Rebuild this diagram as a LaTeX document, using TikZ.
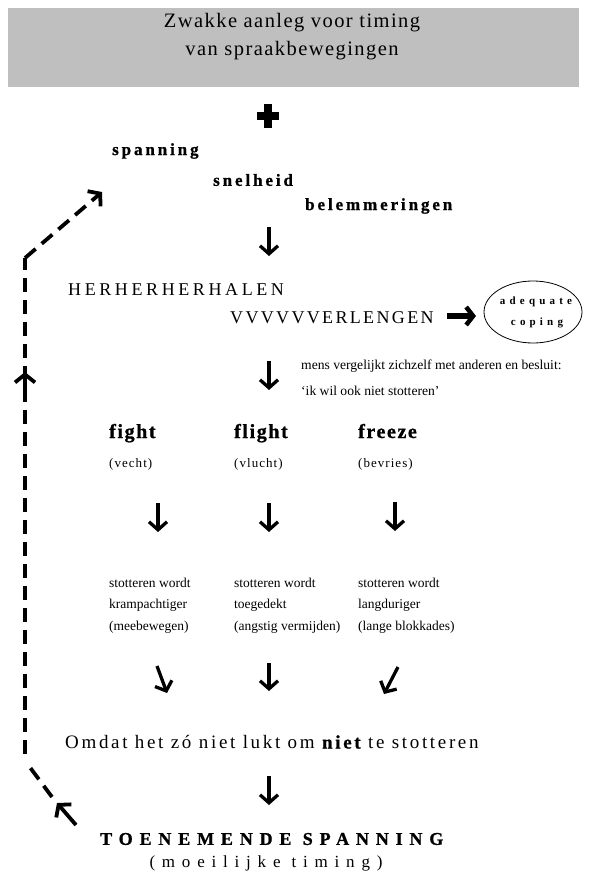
\documentclass[tikz,border=0pt]{standalone}
\usepackage{fontspec}
\setmainfont{Liberation Serif}
\usetikzlibrary{arrows.meta,shapes.geometric}
\begin{document}
\begin{tikzpicture}[x=1pt,y=-1pt,
  txt/.style={inner sep=0pt, anchor=west},
  btxt/.style={inner sep=0pt, anchor=base west},
  ctxt/.style={inner sep=0pt},
  titlefont/.style={font=\fontsize{20.5}{24}\selectfont\addfontfeature{LetterSpace=7}},
  stepfont/.style={font=\bfseries\fontsize{17}{20}\selectfont\addfontfeature{LetterSpace=17,FakeBold=1}},
  herfont/.style={font=\fontsize{18}{21}\selectfont\addfontfeature{LetterSpace=20}},
  verfont/.style={font=\fontsize{18}{21}\selectfont\addfontfeature{LetterSpace=13}},
  smallfont/.style={font=\fontsize{13.6}{16}\selectfont},
  ffont/.style={font=\bfseries\fontsize{20}{23}\selectfont\addfontfeature{LetterSpace=8,FakeBold=1}},
  pfont/.style={font=\fontsize{13}{16}\selectfont\addfontfeature{LetterSpace=8}},
  colfont/.style={font=\fontsize{13.5}{16}\selectfont},
  copefont/.style={font=\bfseries\fontsize{11}{13}\selectfont\addfontfeature{LetterSpace=38}},
  flowarrow/.style={line width=3.3pt, -{Straight Barb[length=8pt,width=18pt,line width=3.3pt]}},
  bigarrow/.style={line width=5.5pt, -{Straight Barb[length=7pt,width=18pt,line width=4.5pt]}},
  loopline/.style={line width=3.8pt, dash pattern=on 14pt off 8pt},
  loophead/.style={line width=3.8pt, -{Straight Barb[length=8pt,width=20pt,line width=3.8pt]}},
]
\useasboundingbox (0,0) rectangle (598,875);

% title box
\node[fill=black!25, minimum width=571pt, minimum height=79pt, inner sep=0pt] (box) at (293.5,47.5) {};
\node[ctxt, titlefont] (t1) at (292,23) {Zwakke aanleg voor timing};
\node[ctxt, titlefont] (t2) at (292,51) {van spraakbewegingen};

% plus
\coordinate (plusc) at (268,116);
\draw[line width=8pt] ([xshift=-11pt]plusc) -- ([xshift=11pt]plusc);
\draw[line width=8pt] ([yshift=-12pt]plusc) -- ([yshift=12pt]plusc);

% three factors
\node[txt, stepfont] (span) at (112,151) {spanning};
\node[txt, stepfont] (snel) at (213,180) {snelheid};
\node[txt, stepfont] (belem) at (305,206) {belemmeringen};

\coordinate (a1s) at (269,227);
\coordinate (a1e) at (269,256);
\draw[flowarrow] (a1s) -- (a1e);

\node[txt, herfont] (herh) at (68,290) {HERHERHERHALEN};
\node[txt, verfont] (verl) at (230,318) {VVVVVVERLENGEN};

\coordinate (a2s) at (447,316);
\coordinate (a2e) at (476,316);
\draw[bigarrow] (a2s) -- (a2e);

\node[draw, ellipse, line width=0.8pt, minimum width=98pt, minimum height=62pt] (cope) at (533,312) {};
\node[ctxt, copefont] (cope1) at (536,302) {adequate};
\node[ctxt, copefont] (cope2) at (537,323) {coping};

\coordinate (a3s) at (269,361);
\coordinate (a3e) at (269,390);
\draw[flowarrow] (a3s) -- (a3e);

\node[txt, smallfont] (mens1) at (301,366) {mens vergelijkt zichzelf met anderen en besluit:};
\node[txt, smallfont] (mens2) at (301,391) {`ik wil ook niet stotteren'};

% fight flight freeze
\node[btxt, ffont] (fight) at (109,438) {fight};
\node[btxt, ffont] (flight) at (234,438) {flight};
\node[btxt, ffont] (freeze) at (358,438) {freeze};
\node[txt, pfont] (vecht) at (109,464) {(vecht)};
\node[txt, pfont] (vlucht) at (234,464) {(vlucht)};
\node[txt, pfont] (bevries) at (358,464) {(bevries)};

\coordinate (b1s) at (158,503); \coordinate (b1e) at (158,532);
\coordinate (b2s) at (269,503); \coordinate (b2e) at (269,532);
\coordinate (b3s) at (395,502); \coordinate (b3e) at (395,531);
\draw[flowarrow] (b1s) -- (b1e);
\draw[flowarrow] (b2s) -- (b2e);
\draw[flowarrow] (b3s) -- (b3e);

\node[txt, colfont] (c1a) at (109,583) {stotteren wordt};
\node[txt, colfont] (c1b) at (109,605) {krampachtiger};
\node[txt, colfont] (c1c) at (109,627) {(meebewegen)};
\node[txt, colfont] (c2a) at (234,583) {stotteren wordt};
\node[txt, colfont] (c2b) at (234,605) {toegedekt};
\node[txt, colfont] (c2c) at (234,627) {(angstig vermijden)};
\node[txt, colfont] (c3a) at (358,583) {stotteren wordt};
\node[txt, colfont] (c3b) at (358,605) {langduriger};
\node[txt, colfont] (c3c) at (358,627) {(lange blokkades)};

\coordinate (d1s) at (157,666); \coordinate (d1e) at (167,693);
\coordinate (d2s) at (269,663); \coordinate (d2e) at (269,691);
\coordinate (d3s) at (398,667); \coordinate (d3e) at (384,694);
\draw[flowarrow] (d1s) -- (d1e);
\draw[flowarrow] (d2s) -- (d2e);
\draw[flowarrow] (d3s) -- (d3e);

\node[txt, font=\fontsize{19}{22}\selectfont\addfontfeature{LetterSpace=14}] (omdat) at (65,742) {Omdat het zó niet lukt om {\bfseries\addfontfeature{FakeBold=1}niet} te stotteren};

\coordinate (e1s) at (269,776); \coordinate (e1e) at (269,805);
\draw[flowarrow] (e1s) -- (e1e);

\node[txt, font=\bfseries\fontsize{18}{21}\selectfont\addfontfeature{LetterSpace=38,FakeBold=1}] (toen) at (100,839) {TOENEMENDE SPANNING};
\node[ctxt, font=\fontsize{17}{20}\selectfont\addfontfeature{LetterSpace=40}] (moei) at (266,863) {(moeilijke timing)};

% feedback loop
\coordinate (l0) at (76,825);
\coordinate (l1) at (57,803);
\coordinate (l2) at (52,797);
\coordinate (l3) at (26,762);
\coordinate (l4) at (25,754);
\coordinate (l5) at (25,258);
\coordinate (l6) at (102,192);
\coordinate (m1) at (25,398);
\coordinate (m2) at (25,372);
\draw[loophead] (l0) -- (l1);
\draw[loopline] (l2) -- (l3);
\draw[loopline] (l4) -- (l5);
\draw[loopline, -{Straight Barb[length=8pt,width=20pt,line width=3.8pt]}] (l5) -- (l6);
\draw[loophead] (m1) -- (m2);
\end{tikzpicture}
\end{document}
